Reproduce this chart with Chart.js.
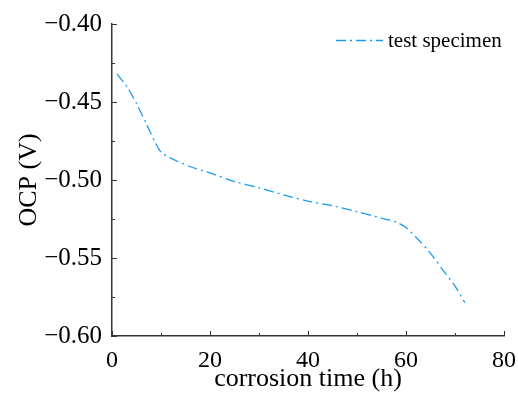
<!DOCTYPE html>
<html lang="en">
<head>
    <meta charset="UTF-8">
    <title>OCP vs corrosion time</title>
    <script src="https://cdn.jsdelivr.net/npm/chart.js"></script>
    <style>
        body { margin: 0; background: #ffffff; }
        #wrap { width: 518px; height: 395px; }
    </style>
</head>
<body>
    <div id="wrap"><canvas id="ocpChart" width="518" height="395"></canvas></div>

    <script>
        // corrosion time (h) and open circuit potential (V)
        const hours = [1, 3, 5, 7, 9, 10, 12, 16, 20, 25, 30, 35, 40, 45, 50, 55, 58, 60, 62, 65, 68, 70, 72];
        const ocp = [-0.432, -0.440, -0.451, -0.464, -0.477, -0.482, -0.486, -0.4915, -0.4955, -0.501, -0.505,
                     -0.5095, -0.5135, -0.5165, -0.5203, -0.5245, -0.527, -0.5305, -0.5365, -0.547, -0.5597, -0.568, -0.5786];
        const xTicks = [0, 20, 40, 60, 80];
        const yTicks = [-0.60, -0.55, -0.50, -0.45, -0.40];

        const serif = "'Liberation Serif', 'Times New Roman', serif";
        const lineColor = '#1a9cf2';
        const dash = [10, 4, 2, 4];

        // ticks drawn inward, like the original plot, plus the legend
        const inwardTicks = {
            id: 'inwardTicks',
            afterDraw(chart) {
                const { ctx, chartArea: a, scales } = chart;
                ctx.save();
                ctx.strokeStyle = '#333';
                ctx.lineWidth = 1;
                ctx.beginPath();
                for (let v = 0; v <= 80; v += 10) {
                    const px = Math.round(scales.x.getPixelForValue(v)) + 0.5;
                    const len = v % 20 === 0 ? 5 : 3;
                    ctx.moveTo(px, a.bottom);
                    ctx.lineTo(px, a.bottom - len);
                }
                for (let i = 0; i <= 8; i++) {
                    const v = -0.60 + i * 0.025;
                    const py = Math.round(scales.y.getPixelForValue(v)) + 0.5;
                    const len = i % 2 === 0 ? 5 : 3;
                    ctx.moveTo(a.left, py);
                    ctx.lineTo(a.left + len, py);
                }
                ctx.stroke();

                // legend
                const ds = chart.data.datasets[0];
                ctx.strokeStyle = ds.borderColor;
                ctx.lineWidth = 1.3;
                ctx.setLineDash(dash);
                ctx.beginPath();
                ctx.moveTo(336, 40.5);
                ctx.lineTo(383, 40.5);
                ctx.stroke();
                ctx.setLineDash([]);
                ctx.fillStyle = '#000';
                ctx.font = '21px ' + serif;
                ctx.textBaseline = 'middle';
                ctx.fillText(ds.label, 388, 41);
                ctx.restore();
            }
        };

        new Chart(document.getElementById('ocpChart'), {
            type: 'line',
            data: {
                datasets: [{
                    label: 'test specimen',
                    data: hours.map((h, i) => ({ x: h, y: ocp[i] })),
                    borderColor: lineColor,
                    borderWidth: 1.3,
                    borderDash: dash,
                    pointRadius: 0,
                    tension: 0.3,
                    fill: false
                }]
            },
            options: {
                responsive: false,
                animation: false,
                layout: { padding: { top: 24, right: 13, left: 14, bottom: 0 } },
                plugins: { legend: { display: false }, tooltip: { enabled: false } },
                scales: {
                    x: {
                        type: 'linear',
                        min: 0, max: 80,
                        afterBuildTicks: s => { s.ticks = xTicks.map(v => ({ value: v })); },
                        afterFit: s => { s.height = 59; },
                        grid: { display: false },
                        border: { display: true, color: '#333', width: 1.5 },
                        ticks: { color: '#000', font: { family: serif, size: 24 }, padding: 2, maxRotation: 0 },
                        title: { display: true, text: 'corrosion time (h)', color: '#000', font: { family: serif, size: 26 }, padding: { top: -6, bottom: 0 } }
                    },
                    y: {
                        min: -0.60, max: -0.40,
                        afterBuildTicks: s => { s.ticks = yTicks.map(v => ({ value: v })); },
                        afterFit: s => { s.width = 98; },
                        grid: { display: false },
                        border: { display: true, color: '#333', width: 1.5 },
                        ticks: {
                            color: '#000', font: { family: serif, size: 25 }, padding: 2,
                            callback: v => '\u2212' + Math.abs(v).toFixed(2)
                        },
                        title: { display: true, text: 'OCP (V)', color: '#000', font: { family: serif, size: 26 }, padding: { top: 0, bottom: 0 } }
                    }
                }
            },
            plugins: [inwardTicks]
        });
    </script>
</body>
</html>
